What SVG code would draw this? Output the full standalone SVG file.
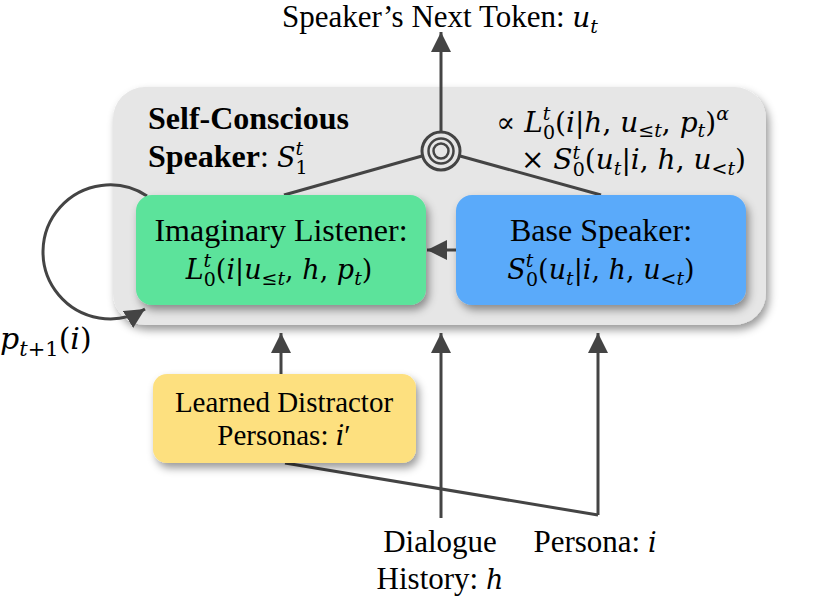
<svg xmlns="http://www.w3.org/2000/svg" width="830" height="599" viewBox="0 0 830 599">
<style>
text{font-family:"Liberation Serif","Times New Roman",serif;font-size:32px;fill:#000}
.m{font-family:"DejaVu Serif",serif;font-size:27px}
.f{font-size:28px}
.it{font-style:italic}
.sm{font-size:19px}
.b{font-weight:bold;font-size:32px}
.ln{stroke:#444;stroke-width:3;fill:none}
.ring{stroke:#444;fill:none}
</style>
<defs>
<filter id="sh" x="-10%" y="-10%" width="130%" height="140%">
<feDropShadow dx="3" dy="5" stdDeviation="4" flood-color="#000" flood-opacity="0.4"/>
</filter>
<marker id="ah" viewBox="0 0 20 20" refX="20" refY="10" markerWidth="20" markerHeight="20" markerUnits="userSpaceOnUse" orient="auto">
<path d="M0,0 L20,10 L0,20 z" fill="#444"/>
</marker>
</defs>

<g id="container">
<rect x="113" y="87" width="653" height="238" rx="32" fill="#e6e6e6" filter="url(#sh)"/>
<text x="148" y="129" class="b">Self-Conscious</text>
<text x="148" y="167"><tspan class="b">Speaker</tspan>: <tspan class="m it">S</tspan><tspan class="m sm it" baseline-shift="12">t</tspan><tspan class="m sm" dx="-7.5" baseline-shift="-7">1</tspan></text>
<text x="729" y="132" text-anchor="end" class="m f">∝ <tspan class="it">L</tspan><tspan class="sm it" baseline-shift="12">t</tspan><tspan class="sm" dx="-7.5" baseline-shift="-7">0</tspan>(<tspan class="it">i</tspan>|<tspan class="it">h</tspan>, <tspan class="it">u</tspan><tspan class="sm" baseline-shift="-5">≤<tspan class="it">t</tspan></tspan>, <tspan class="it">p</tspan><tspan class="sm it" baseline-shift="-5">t</tspan>)<tspan class="sm it" baseline-shift="12">α</tspan></text>
<text x="746" y="169" text-anchor="end" class="m f">× <tspan class="it">S</tspan><tspan class="sm it" baseline-shift="10">t</tspan><tspan class="sm" dx="-7.5" baseline-shift="-7">0</tspan>(<tspan class="it">u</tspan><tspan class="sm it" baseline-shift="-6">t</tspan>|<tspan class="it">i</tspan>, <tspan class="it">h</tspan>, <tspan class="it">u</tspan><tspan class="sm" baseline-shift="-6">&lt;<tspan class="it">t</tspan></tspan>)</text>
</g>

<g id="combine">
<circle cx="441" cy="151" r="19" class="ring" stroke-width="3"/>
<circle cx="441" cy="151" r="12.5" class="ring" stroke-width="2.5"/>
<circle cx="441" cy="151" r="7.5" class="ring" stroke-width="2.5"/>
</g>

<g id="connectors">
<path class="ln" d="M441,131 V32" marker-end="url(#ah)"/>
<path class="ln" d="M422,156 L284,195"/>
<path class="ln" d="M460,156 L601,195"/>
<path class="ln" d="M456,250 H427" marker-end="url(#ah)"/>
<path class="ln" d="M147,196 A67,67 0 1,0 145,309" marker-end="url(#ah)"/>
<path class="ln" d="M281,374 V333" marker-end="url(#ah)"/>
<path class="ln" d="M441,518 V333" marker-end="url(#ah)"/>
<path class="ln" d="M598,515 V333" marker-end="url(#ah)"/>
<path class="ln" d="M285,463 L598,515"/>
</g>

<g id="output">
<text x="440" y="27" text-anchor="middle" style="font-size:31px">Speaker’s Next Token: <tspan class="m it f">u</tspan><tspan class="m sm it" baseline-shift="-6">t</tspan></text>
</g>

<g id="listener">
<rect x="136" y="195" width="290" height="110" rx="16" fill="#5be39b" filter="url(#sh)"/>
<text x="281" y="241" text-anchor="middle">Imaginary Listener:</text>
<text x="279" y="279" text-anchor="middle" class="m"><tspan class="it">L</tspan><tspan class="sm it" baseline-shift="12">t</tspan><tspan class="sm" dx="-7.5" baseline-shift="-7">0</tspan>(<tspan class="it">i</tspan>|<tspan class="it">u</tspan><tspan class="sm" baseline-shift="-6">≤<tspan class="it">t</tspan></tspan>, <tspan class="it">h</tspan>, <tspan class="it">p</tspan><tspan class="sm it" baseline-shift="-6">t</tspan>)</text>
</g>

<g id="base-speaker">
<rect x="456" y="195" width="290" height="110" rx="16" fill="#5aaafa" filter="url(#sh)"/>
<text x="601" y="241" text-anchor="middle">Base Speaker:</text>
<text x="601" y="279" text-anchor="middle" class="m"><tspan class="it">S</tspan><tspan class="sm it" baseline-shift="12">t</tspan><tspan class="sm" dx="-7.5" baseline-shift="-7">0</tspan>(<tspan class="it">u</tspan><tspan class="sm it" baseline-shift="-6">t</tspan>|<tspan class="it">i</tspan>, <tspan class="it">h</tspan>, <tspan class="it">u</tspan><tspan class="sm" baseline-shift="-6">&lt;<tspan class="it">t</tspan></tspan>)</text>
</g>

<g id="distractors">
<rect x="153" y="374" width="263" height="89" rx="14" fill="#fde07f" filter="url(#sh)"/>
<text x="284" y="412" text-anchor="middle" style="font-size:29px">Learned Distractor</text>
<text x="284" y="445" text-anchor="middle" style="font-size:29px">Personas: <tspan class="m it">i</tspan>′</text>
</g>

<g id="loop-label">
<text x="0" y="349" class="m" style="font-size:30px"><tspan class="it">p</tspan><tspan class="sm" style="font-size:21px" baseline-shift="-7"><tspan class="it">t</tspan>+1</tspan>(<tspan class="it">i</tspan>)</text>
</g>

<g id="history">
<text x="440" y="552" text-anchor="middle" style="font-size:31px">Dialogue</text>
<text x="440" y="589" text-anchor="middle" style="font-size:31px">History: <tspan class="m it">h</tspan></text>
</g>

<g id="persona">
<text x="595" y="552" text-anchor="middle" style="font-size:31px">Persona: <tspan class="m it">i</tspan></text>
</g>
</svg>
